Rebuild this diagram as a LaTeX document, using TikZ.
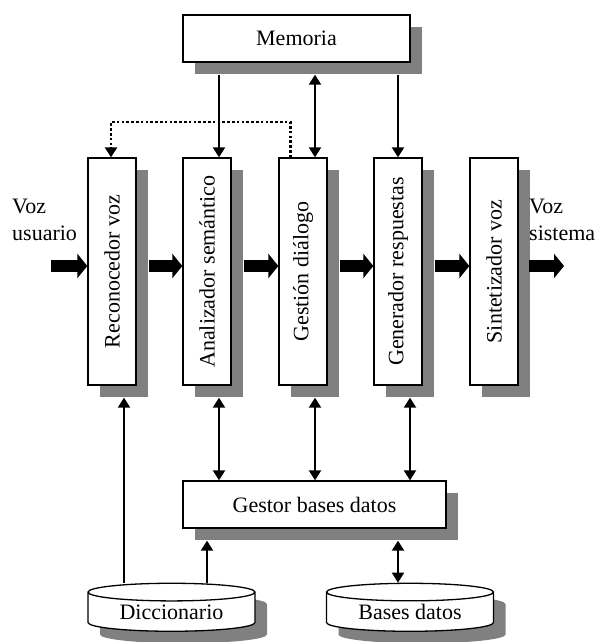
\documentclass[tikz,border=0pt]{standalone}
\usepackage{fontspec}
\setmainfont{Liberation Serif}
\usetikzlibrary{arrows.meta,shapes.geometric,shadows}

\tikzset{
  caja/.style={rectangle, draw=black, line width=1.3pt, fill=white, inner sep=0pt,
    drop shadow={shadow xshift=12pt, shadow yshift=-12pt, fill=gray, opacity=1}},
  vcaja/.style={caja, minimum width=48pt, minimum height=227pt},
  disco/.style={cylinder, shape border rotate=90, aspect=0.17, draw=black, line width=1.3pt,
    fill=white, inner sep=0pt, minimum width=167pt, minimum height=48pt,
    drop shadow={shadow xshift=12pt, shadow yshift=-12pt, fill=gray, opacity=1}},
  flecha/.style={line width=2pt, -{Triangle[length=10pt,width=12pt]}},
  dflecha/.style={line width=2pt, {Triangle[length=10pt,width=12pt]}-{Triangle[length=10pt,width=12pt]}},
  gorda/.style={line width=12pt, -{Triangle[length=10pt,width=24pt]}},
  punteada/.style={line width=2.6pt, dash pattern=on 2.6pt off 2.2pt, -{Triangle[length=10pt,width=12pt]}},
}

\begin{document}
\begin{tikzpicture}[x=1pt, y=-1pt, font=\fontsize{22}{27}\selectfont]
    \useasboundingbox (0,0) rectangle (596,642);

    %Nodes
    \node (mem)  [caja, minimum width=227pt, minimum height=47pt] at (296.5,38.5) {Memoria};
    \node (reco) [vcaja] at (112,271.5) {\rotatebox{90}{Reconocedor voz}};
    \node (anal) [vcaja] at (207,271.5) {\rotatebox{90}{Analizador semántico}};
    \node (gest) [vcaja] at (303,271.5) {\rotatebox{90}{Gestión diálogo}};
    \node (gene) [vcaja] at (398,271.5) {\rotatebox{90}{Generador respuestas}};
    \node (sint) [vcaja] at (494,271.5) {\rotatebox{90}{Sintetizador voz}};
    \node (gbd)  [caja, minimum width=263pt, minimum height=47pt] at (314.5,504.5) {Gestor bases datos};
    \node (dicc) [disco] at (171.5,612) {Diccionario};
    \node (bdat) [disco] at (410,612) {Bases datos};

    % Text labels (outside nodes)
    \node (vusu) [anchor=west, align=left, inner sep=0pt] at (12,219.5) {Voz\\usuario};
    \node (vsis) [anchor=west, align=left, inner sep=0pt] at (529,219.5) {Voz\\sistema};

    % Shadow edges and arrow ends
    \coordinate (mbot) at ([yshift=-12pt]mem.south);
    \coordinate (vbot) at ([yshift=-12pt]anal.south);
    \coordinate (gbot) at ([yshift=-12pt]gbd.south);
    \coordinate (a1) at ([xshift=12pt]anal.north);
    \coordinate (a2) at ([xshift=12pt]gest.north);
    \coordinate (a3) at (gene.north);
    \coordinate (b1) at ([xshift=12pt]anal.south);
    \coordinate (b2) at ([xshift=12pt]gest.south);
    \coordinate (b3) at ([xshift=12pt]gene.south);
    \coordinate (r1) at ([xshift=12pt]reco.south);
    \coordinate (d1) at ([xshift=35.5pt]dicc.north);
    \coordinate (d2) at ([xshift=-12pt]bdat.north);
    \coordinate (p1) at ([xshift=12pt]gest.north west);
    \coordinate (p2) at ([xshift=-1pt]reco.north);
    \coordinate (vin)  at (51,266);
    \coordinate (vout) at (564,266);

    %Lines
    \draw[flecha]  (a1 |- mbot) -- (a1);
    \draw[dflecha] (a2 |- mbot) -- (a2);
    \draw[flecha]  (a3 |- mbot) -- (a3);
    \draw[punteada] (p1) -- (p1 |- 0,122) -- (p2 |- 0,122) -- (p2);

    \draw[gorda] (vin) -- (vin -| reco.west);
    \draw[gorda] ([shift={(12pt,5.5pt)}]reco.east) -- ([yshift=5.5pt]anal.west);
    \draw[gorda] ([shift={(12pt,5.5pt)}]anal.east) -- ([yshift=5.5pt]gest.west);
    \draw[gorda] ([shift={(12pt,5.5pt)}]gest.east) -- ([yshift=5.5pt]gene.west);
    \draw[gorda] ([shift={(12pt,5.5pt)}]gene.east) -- ([yshift=5.5pt]sint.west);
    \draw[gorda] ([shift={(10pt,5.5pt)}]sint.east) -- (vout);

    \draw[dflecha] (b1 |- vbot) -- (b1 |- gbd.north);
    \draw[dflecha] (b2 |- vbot) -- (b2 |- gbd.north);
    \draw[dflecha] (b3 |- vbot) -- (b3 |- gbd.north);
    \draw[flecha]  (r1 |- dicc.north) -- (r1 |- vbot);
    \draw[flecha]  (d1) -- (d1 |- gbot);
    \draw[dflecha] (d2 |- gbot) -- (d2);
\end{tikzpicture}
\end{document}
